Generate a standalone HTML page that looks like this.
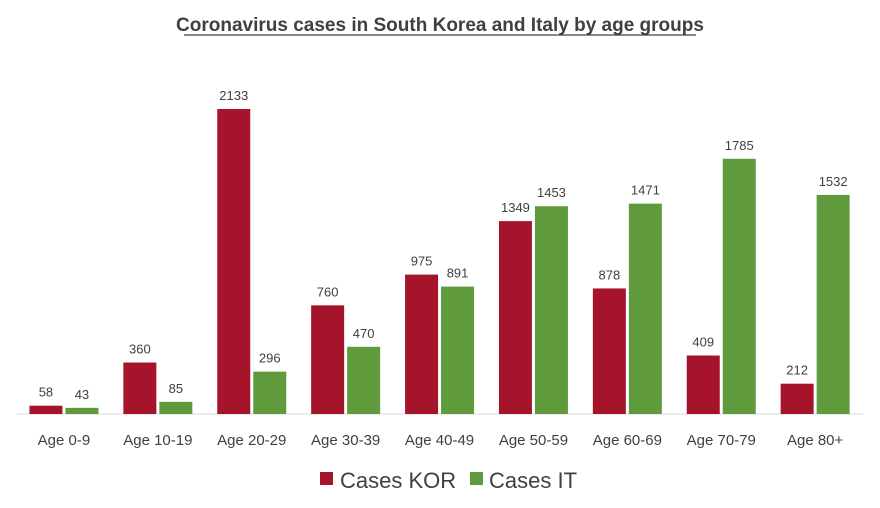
<!DOCTYPE html>
<html><head><meta charset="utf-8">
<style>
body{margin:0;background:#fff;}
svg{display:block;font-family:"Liberation Sans",Calibri,sans-serif;}
</style></head>
<body>
<svg id="chart" width="880" height="508" viewBox="0 0 880 508">
<rect width="880" height="508" fill="#fff"/>
<text x="440" y="31" text-anchor="middle" font-size="19" font-weight="bold" fill="#404040">Coronavirus cases in South Korea and Italy by age groups</text>
<line x1="184" x2="696" y1="35" y2="35" stroke="#404040" stroke-width="1.3"/>
<line x1="17" x2="863" y1="414" y2="414" stroke="#d9d9d9" stroke-width="1"/>
<g id="bars"></g>
<g>
<rect x="320" y="472" width="13" height="13" fill="#A6142B"/>
<text x="340" y="488" font-size="22" fill="#404040">Cases KOR</text>
<rect x="470" y="472" width="13" height="13" fill="#5F9B3C"/>
<text x="489" y="488" font-size="22" fill="#404040">Cases IT</text>
</g>
</svg>
<script>
const categories=["Age 0-9","Age 10-19","Age 20-29","Age 30-39","Age 40-49","Age 50-59","Age 60-69","Age 70-79","Age 80+"];
const casesKOR=[58,360,2133,760,975,1349,878,409,212];
const casesIT=[43,85,296,470,891,1453,1471,1785,1532];
const NS="http://www.w3.org/2000/svg";
const base=414, top0=109, maxV=2133;
const x0=17, groupW=93.9, barW=33, gap=3;
function y(v){return base-(v/maxV)*(base-top0);}
function cx(i){return x0+groupW*(i+0.5);}
const g=document.getElementById('bars');
function mk(tag,attrs){const e=document.createElementNS(NS,tag);for(const k in attrs)e.setAttribute(k,attrs[k]);return e;}
categories.forEach((c,i)=>{
  const center=cx(i);
  [[casesKOR,"#A6142B",center-gap/2-barW,"kor"],[casesIT,"#5F9B3C",center+gap/2,"it"]].forEach(([arr,col,bx,key])=>{
    const v=arr[i];
    const r=mk('rect',{x:bx,y:y(v),width:barW,height:base-y(v),fill:col});
    
    
    g.appendChild(r);
    const t=mk('text',{x:bx+barW/2,y:y(v)-9,'text-anchor':'middle','font-size':'13',fill:'#404040'});
    
    
    t.textContent=v;
    g.appendChild(t);
  });
  const l=mk('text',{x:center,y:445,'text-anchor':'middle','font-size':'15',fill:'#404040'});
  
  
  l.textContent=c;
  g.appendChild(l);
});
</script>
</body></html>
